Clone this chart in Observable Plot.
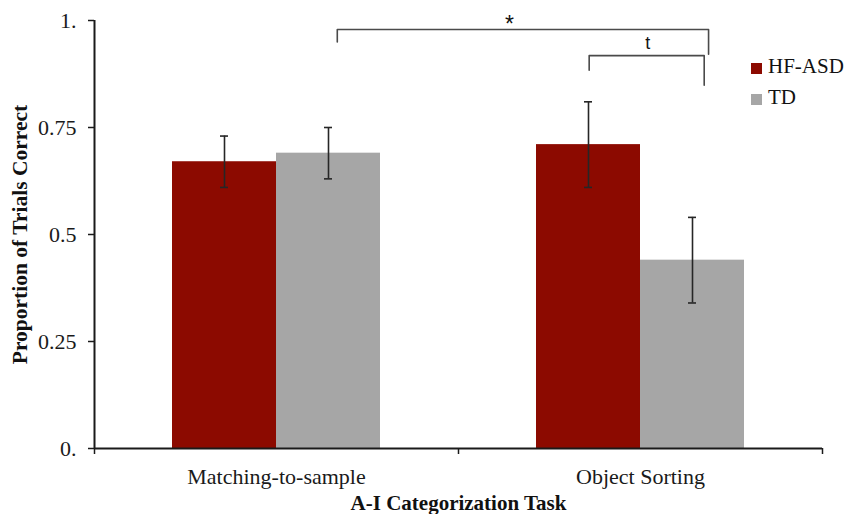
<!DOCTYPE html>
<html><head><meta charset="utf-8">
<script src="https://cdn.jsdelivr.net/npm/d3@7"></script>
<script src="https://cdn.jsdelivr.net/npm/@observablehq/plot@0.6"></script>
<style>
html,body{margin:0;padding:0;background:#fff;}
#wrap{position:relative;width:848px;height:514px;overflow:hidden;}
#legend{position:absolute;left:751px;top:56px;font-family:"Liberation Serif",serif;font-size:21px;color:#111;}
.item{position:relative;height:31px;line-height:21px;white-space:nowrap;padding-left:17px;}
.sw{position:absolute;left:0;top:7px;width:11px;height:11px;}
</style></head><body><div id="wrap"></div>
<script>
// ---- data ----
const tasks = ["Matching-to-sample", "Object Sorting"];
const groups = ["HF-ASD", "TD"];
const groupColors = ["#8c0a00", "#a6a6a6"];
const hfasdMeans = [0.67, 0.71];
const tdMeans = [0.69, 0.44];
const hfasdErrors = [0.06, 0.10];
const tdErrors = [0.06, 0.10];
const yTicks = [0, 0.25, 0.5, 0.75, 1];
const yTickLabels = ["0.", "0.25", "0.5", "0.75", "1."];
const xTitle = "A-I Categorization Task";
const yTitle = "Proportion of Trials Correct";
// significance brackets (x in task-band units, y in proportion units)
const bracketLabels = ["*", "t"];
const bracketX1 = [0.667, 1.359];
const bracketX2 = [1.687, 1.675];
const bracketTop = [0.979, 0.918];
const bracketLeftEnd = [0.950, 0.884];
const bracketRightEnd = [0.921, 0.849];
const bracketLabelX = [1.14, 1.52];
const bracketLabelY = [0.972, 0.934];

// ---- build table ----
const barW = 2 / 7; // width of one bar as a fraction of a task band
const means = [hfasdMeans, tdMeans];
const errs = [hfasdErrors, tdErrors];
const rows = [];
tasks.forEach((t, i) => groups.forEach((g, k) => {
  const x1 = i + 0.5 + (k - 1) * barW;
  rows.push({task: t, group: g, x1, x2: x1 + barW, xc: x1 + barW / 2,
    v: means[k][i], lo: means[k][i] - errs[k][i], hi: means[k][i] + errs[k][i]});
}));
const capHalf = 0.011;
const bracketPts = [];
bracketLabels.forEach((l, j) => {
  bracketPts.push({b: l, x: bracketX1[j], y: bracketLeftEnd[j]});
  bracketPts.push({b: l, x: bracketX1[j], y: bracketTop[j]});
  bracketPts.push({b: l, x: bracketX2[j], y: bracketTop[j]});
  bracketPts.push({b: l, x: bracketX2[j], y: bracketRightEnd[j]});
});
const bracketText = bracketLabels.map((l, j) => ({label: l, x: bracketLabelX[j], y: bracketLabelY[j]}));

const chart = Plot.plot({
  width: 848, height: 514,
  marginLeft: 94, marginRight: 26, marginTop: 20, marginBottom: 66,
  style: {fontFamily: "'Liberation Serif', 'Times New Roman', serif", fontSize: "22px", color: "#1a1a1a", background: "#fff"},
  x: {domain: [0, tasks.length], axis: null},
  y: {domain: [0, 1], axis: null},
  color: {domain: groups, range: groupColors},
  marks: [
    Plot.rect(rows, {x1: "x1", x2: "x2", y1: 0, y2: "v", fill: "group"}),
    Plot.ruleX(rows, {x: "xc", y1: "lo", y2: "hi", stroke: "#262626", strokeWidth: 1.6}),
    Plot.ruleY(rows, {y: "lo", x1: d => d.xc - capHalf, x2: d => d.xc + capHalf, stroke: "#262626", strokeWidth: 1.6}),
    Plot.ruleY(rows, {y: "hi", x1: d => d.xc - capHalf, x2: d => d.xc + capHalf, stroke: "#262626", strokeWidth: 1.6}),
    Plot.line(bracketPts, {x: "x", y: "y", z: "b", stroke: "#4a4a4a", strokeWidth: 1.6}),
    Plot.text(bracketText, {x: "x", y: "y", text: "label", lineAnchor: "bottom",
      fontSize: d => d.label === "*" ? 23 : 18,
      fontFamily: "'Liberation Sans', Arial, sans-serif", fill: "#111"}),
    // axes
    Plot.axisY({ticks: yTicks, tickFormat: d => yTickLabels[yTicks.indexOf(d)], tickSize: 6, tickPadding: 12,
      label: null, stroke: "#1a1a1a", strokeWidth: 1.5, fill: "#1a1a1a"}),
    Plot.axisX({ticks: [0, 1, 2], tickFormat: () => "", tickSize: 6, label: null, stroke: "#1a1a1a", strokeWidth: 1.5}),
    Plot.ruleX([0], {y1: 0, y2: 1, stroke: "#1a1a1a", strokeWidth: 2}),
    Plot.ruleY([0], {x1: 0, x2: tasks.length, stroke: "#1a1a1a", strokeWidth: 2}),
    Plot.text(tasks, {x: (d, i) => i + 0.5, y: 0, text: d => d, lineAnchor: "bottom", dy: 35, fill: "#1a1a1a"}),
    Plot.text([xTitle], {frameAnchor: "bottom", textAnchor: "middle", lineAnchor: "bottom", dy: 61, fontWeight: "bold", fontSize: 21, fill: "#111"}),
    Plot.text([yTitle], {frameAnchor: "left", textAnchor: "middle", rotate: -90, dx: -74, fontWeight: "bold", fontSize: 21.5, fill: "#111"})
  ]
});
const wrap = document.getElementById("wrap");
wrap.appendChild(chart);
const legend = document.createElement("div");
legend.id = "legend";
groups.forEach((g, k) => {
  const it = document.createElement("div");
  it.className = "item";
  const sw = document.createElement("span");
  sw.className = "sw";
  sw.style.background = groupColors[k];
  it.appendChild(sw);
  it.appendChild(document.createTextNode(g));
  legend.appendChild(it);
});
wrap.appendChild(legend);
</script></body></html>
